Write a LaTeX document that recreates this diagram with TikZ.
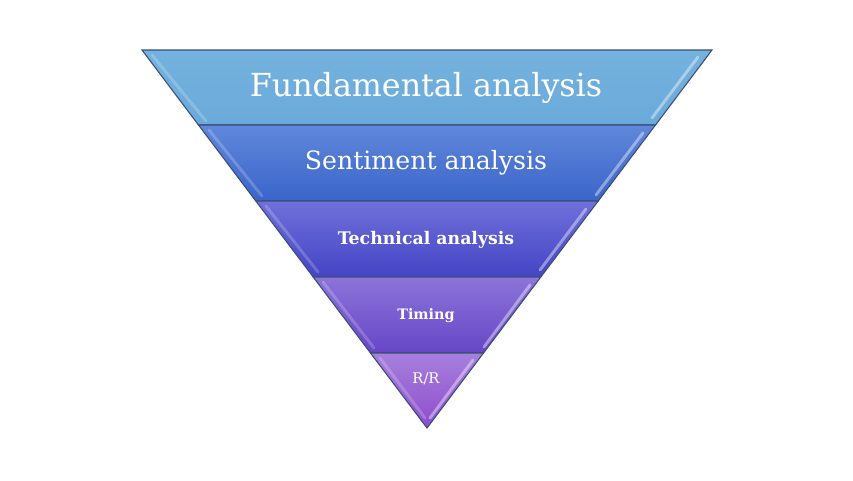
\documentclass[tikz,border=0pt]{standalone}
\usepackage{fontspec}
\setmainfont{DejaVu Serif}
\definecolor{bAt}{HTML}{74B2DE}\definecolor{bAb}{HTML}{6AAADA}
\definecolor{bBt}{HTML}{6088DA}\definecolor{bBb}{HTML}{3A64CA}
\definecolor{bCt}{HTML}{7070DA}\definecolor{bCb}{HTML}{4444C6}
\definecolor{bDt}{HTML}{8C74DA}\definecolor{bDb}{HTML}{6646C6}
\definecolor{bEt}{HTML}{A680DC}\definecolor{bEb}{HTML}{8E4CCE}
\definecolor{edge}{HTML}{3A4E78}
\tikzset{
  band/.style={draw=edge, line width=0.8},
  lbl/.style={text=white, inner sep=0pt},
  hiliteL/.style={draw=white, draw opacity=0.2, line width=2.2, line cap=round},
  hiliteR/.style={draw=white, draw opacity=0.4, line width=2.2, line cap=round},
}
\begin{document}
\begin{tikzpicture}[x=0.75pt,y=-0.75pt]
\useasboundingbox (0,0) rectangle (853,480);
\shade[band, top color=bAt, bottom color=bAb] (142,50) -- (712,50) -- (655.5,125) -- (198.5,125) -- cycle;
\shade[band, top color=bBt, bottom color=bBb] (198.5,125) -- (655.5,125) -- (598.2,201) -- (255.8,201) -- cycle;
\shade[band, top color=bCt, bottom color=bCb] (255.8,201) -- (598.2,201) -- (540.8,277) -- (313.2,277) -- cycle;
\shade[band, top color=bDt, bottom color=bDb] (313.2,277) -- (540.8,277) -- (483.5,353) -- (370.5,353) -- cycle;
\shade[band, top color=bEt, bottom color=bEb] (370.5,353) -- (483.5,353) -- (427,428) -- cycle;
% bevel highlights
\draw[hiliteL] (152,55) -- (206,121);
\draw[hiliteR] (698,57) -- (652,118);
\draw[hiliteL] (209,130) -- (262,196);
\draw[hiliteR] (643,133) -- (596,195);
\draw[hiliteL] (266,206) -- (318,272);
\draw[hiliteR] (586,209) -- (540,270);
\draw[hiliteL] (323,282) -- (374,348);
\draw[hiliteR] (530,285) -- (484,347);
\draw[hiliteL] (380,358) -- (425,418);
\draw[hiliteR] (473,360) -- (430,418);
% labels
\node[lbl, font=\fontsize{23.8}{28}\selectfont] (fa) at (426,88) {Fundamental analysis};
\node[lbl, font=\fontsize{18.9}{22}\selectfont] (sa) at (426,163) {Sentiment analysis};
\node[lbl, font=\bfseries\fontsize{13}{15}\selectfont] (ta) at (426,240) {Technical analysis};
\node[lbl, font=\bfseries\fontsize{10.8}{13}\selectfont] (ti) at (426,316) {Timing};
\node[lbl, font=\fontsize{11}{13}\selectfont] (rr) at (426,379) {R/R};
\end{tikzpicture}
\end{document}
